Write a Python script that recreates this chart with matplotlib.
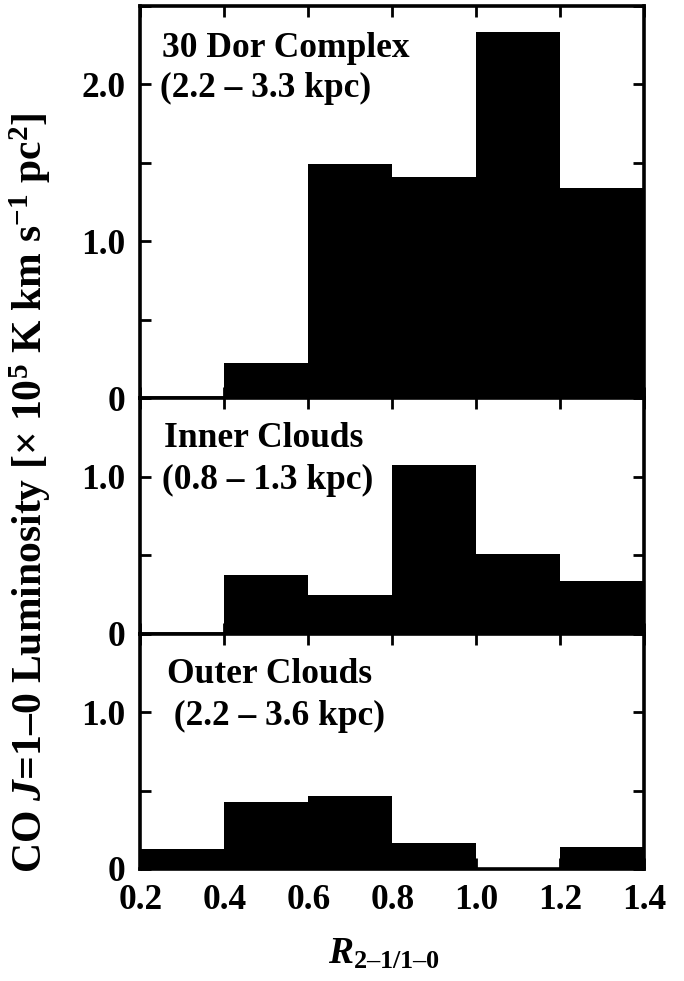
import matplotlib
matplotlib.use('Agg')
import matplotlib.pyplot as plt
from matplotlib.ticker import MultipleLocator, FuncFormatter

# 直方图数据 (bin 左边界, 宽 0.2)
bin_edges = [0.2, 0.4, 0.6, 0.8, 1.0, 1.2]
dor_lum = [0.0, 0.225, 1.495, 1.407, 2.335, 1.343]
inner_lum = [0.0, 0.371, 0.248, 1.074, 0.508, 0.335]
outer_lum = [0.125, 0.43, 0.468, 0.165, 0.0, 0.137]

panel_names = ['30 Dor Complex', 'Inner Clouds', 'Outer Clouds']
panel_ranges = ['(2.2 \u2013 3.3 kpc)', '(0.8 \u2013 1.3 kpc)', ' (2.2 \u2013 3.6 kpc)']
panel_ymax = [2.5, 1.5, 1.5]

plt.rcParams['font.family'] = ['Liberation Serif', 'DejaVu Serif']
plt.rcParams['font.weight'] = 'bold'
plt.rcParams['mathtext.fontset'] = 'custom'
plt.rcParams['mathtext.rm'] = 'Liberation Serif:bold'
plt.rcParams['mathtext.bf'] = 'Liberation Serif:bold'
plt.rcParams['mathtext.it'] = 'Liberation Serif:bold:italic'

FS = 25.5

fig = plt.figure(figsize=(6.84, 9.81), dpi=100)
gs = fig.add_gridspec(3, 1, height_ratios=panel_ymax, hspace=0,
                      left=0.2054, right=0.9415, top=0.9939, bottom=0.1142)


def ylabel_fmt(v, pos):
    if abs(v) < 1e-9:
        return '0'
    if abs(v - round(v)) < 1e-9:
        return '%.1f' % v
    return ''


series = [dor_lum, inner_lum, outer_lum]
# 文字基线位置 (axes 坐标)
line1_y = [0.871, 0.793, 0.791]
line2_y = [0.767, 0.614, 0.611]
text_x = [0.043, 0.046, 0.053]

for i, vals in enumerate(series):
    ax = fig.add_subplot(gs[i])
    ax.bar(bin_edges, vals, width=0.2, align='edge', color='black', linewidth=0)
    ax.set_xlim(0.2, 1.4)
    ax.set_ylim(0, panel_ymax[i])
    ax.xaxis.set_major_locator(MultipleLocator(0.2))
    ax.yaxis.set_major_locator(MultipleLocator(0.5))
    ax.yaxis.set_major_formatter(FuncFormatter(ylabel_fmt))
    ax.xaxis.set_major_formatter(FuncFormatter(lambda v, p: '%.1f' % v))
    ax.tick_params(direction='in', top=True, right=True, length=8, width=2.0,
                   labelsize=FS, pad=11)
    if i < 2:
        ax.tick_params(labelbottom=False)
    for sp in ax.spines.values():
        sp.set_linewidth(2.6)
    ax.text(text_x[i], line1_y[i], panel_names[i], transform=ax.transAxes,
            fontsize=FS, fontweight='bold', va='baseline', ha='left')
    ax.text(text_x[i] - 0.004, line2_y[i], panel_ranges[i], transform=ax.transAxes,
            fontsize=FS, fontweight='bold', va='baseline', ha='left')

fig.text(0.044, 0.498,
         'CO $\\mathit{J}$=1\u20130 Luminosity [\u00d7 10$^{5}$ K km s$^{-1}$ pc$^{2}$]',
         rotation=90, ha='center', va='center', fontsize=30, fontweight='bold')
fig.text(0.562, 0.027, '$\\mathit{R}_{\\mathrm{2\u20131/1\u20130}}$',
         ha='center', va='center', fontsize=27)

fig.savefig('out.png', dpi=100)
